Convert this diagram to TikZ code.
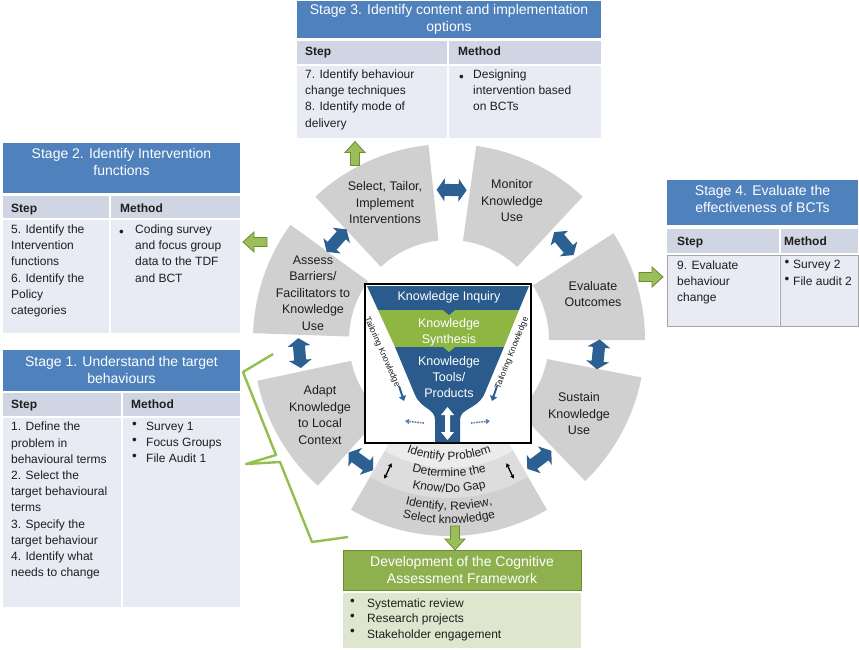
\documentclass[tikz,border=0pt]{standalone}
\usepackage{fontspec}
\setmainfont{Liberation Sans}
\usetikzlibrary{calc,decorations.text,arrows.meta}
\definecolor{kblue}{RGB}{45,96,146}
\definecolor{hblue}{RGB}{79,129,189}
\definecolor{colhead}{RGB}{207,213,227}
\definecolor{cellbg}{RGB}{232,235,244}
\definecolor{seggray}{RGB}{208,208,208}
\definecolor{bandone}{RGB}{236,236,236}
\definecolor{bandtwo}{RGB}{221,221,221}
\definecolor{fgreen}{RGB}{141,182,67}
\definecolor{ggreen}{RGB}{155,190,90}
\definecolor{ggreendk}{RGB}{108,140,48}
\definecolor{hgreen}{RGB}{142,176,78}
\definecolor{bgreen}{RGB}{222,231,205}
\definecolor{bracegreen}{RGB}{146,192,76}
\definecolor{funblue}{RGB}{42,91,140}
\definecolor{txt}{RGB}{30,30,30}
\newcommand{\kseg}[5]{\fill[#5] ($(C)+(#1:#4)$) arc[start angle=#1,end angle=#2,radius=#4] -- ($(C)+(#2:#3)$) arc[start angle=#2,end angle=#1,radius=#3] -- cycle;}
\newcommand{\kbandtext}[2]{\path[decorate,decoration={text along path,text align=center,text color=txt,text={|\fontsize{12}{14}\selectfont|#2}}] ($(C)+(236:#1)$) arc[start angle=236,end angle=304,radius=#1];}
\newcommand{\kbul}{{\fontsize{13.5}{13.5}\selectfont •}}
\begin{document}
\begin{tikzpicture}[x=1pt,y=1pt,
  segtext/.style={font=\fontsize{12.5}{16.5}\selectfont, text=txt, align=center, inner sep=0pt},
  funtext/.style={font=\fontsize{12.5}{16}\selectfont, text=white, align=center, inner sep=0pt},
  hdrtext/.style={font=\fontsize{14}{17}\selectfont, text=white, align=center, inner sep=0pt},
  btext/.style={anchor=north west, inner sep=0pt, yshift=11.34pt, align=left, font=\fontsize{12}{16.2}\selectfont, text=txt, execute at begin node=\strut},
  gtext/.style={anchor=north west, inner sep=0pt, yshift=10.71pt, align=left, font=\fontsize{12}{15.3}\selectfont, text=txt, execute at begin node=\strut},
  colhd/.style={anchor=base west, inner sep=0pt, font=\bfseries\fontsize{12}{14}\selectfont, text=txt},
  tailtext/.style={font=\fontsize{8.5}{10}\selectfont, text=txt, inner sep=0pt},
  dblarrow/.pic={\fill[kblue] (-15,0) -- (-7,11.5) -- (-7,6) -- (7,6) -- (7,11.5) -- (15,0) -- (7,-11.5) -- (7,-6) -- (-7,-6) -- (-7,-11.5) -- cycle;},
  greenarrow/.pic={\filldraw[fill=ggreen, draw=ggreendk, line width=0.8pt] (-12,-4.5) -- (1,-4.5) -- (1,-10) -- (12,0) -- (1,10) -- (1,4.5) -- (-12,4.5) -- cycle;},
  smallarr/.style={{Stealth[length=4pt,width=4.5pt]}-{Stealth[length=4pt,width=4.5pt]}, line width=1.3pt, black}
]
\useasboundingbox (0,0) rectangle (859,-650);
\fill[white] (0,0) rectangle (859,-650);
\coordinate (C) at (449,-340);

% ring segments
\kseg{0}{33}{100}{196}{seggray}
\kseg{47}{82}{100}{196}{seggray}
\kseg{96}{133}{100}{196}{seggray}
\kseg{144}{178}{100}{196}{seggray}
\kseg{192}{228}{100}{196}{seggray}
\kseg{314}{349}{100}{196}{seggray}
\kseg{240}{300}{93}{196}{seggray}
\kseg{240}{300}{93}{158}{bandtwo}
\kseg{240}{300}{93}{128}{bandone}

% segment labels
\node[segtext] (sel) at (385,-203) {Select, Tailor,\\Implement\\Interventions};
\node[segtext] (mon) at (512,-201) {Monitor\\Knowledge\\Use};
\node[segtext] (eva) at (593,-294) {Evaluate\\Outcomes};
\node[segtext] (sus) at (579,-414) {Sustain\\Knowledge\\Use};
\node[segtext] (ada) at (320,-415) {Adapt\\Knowledge\\to Local\\Context};
\node[segtext] (ass) at (313,-293) {Assess\\Barriers/\\Facilitators to\\Knowledge\\Use};

% bottom curved texts
\kbandtext{120}{Identify Problem}
\kbandtext{137}{Determine the}
\kbandtext{152.5}{Know/Do Gap}
\kbandtext{170}{Identify, Review,}
\kbandtext{183.5}{Select knowledge}
\draw[smallarr] ($(C)+(245:136)$) -- ($(C)+(245:153)$);
\draw[smallarr] ($(C)+(295:136)$) -- ($(C)+(295:153)$);

% blue double arrows between segments
\foreach \a in {89,40,-5.5,-53,234,185,138.5}
  \pic[rotate=\a+90] at ($(C)+(\a:150)$) {dblarrow};

% central funnel box
\draw[black, line width=1.3pt, fill=white] (365,-284) rectangle (531,-443);
\fill[funblue] (367,-286) -- (529,-286) -- (519,-310) -- (378,-310) -- cycle;
\fill[fgreen] (378,-310) -- (519,-310) -- (504,-347) -- (395,-347) -- cycle;
\fill[funblue] (395,-347) -- (504,-347) -- (484,-395) .. controls (476,-410) and (460,-408) .. (460,-420) -- (460,-442) -- (435,-442) -- (435,-420) .. controls (435,-408) and (422,-410) .. (415,-395) -- cycle;
\fill[funblue] (443,-310) -- (455,-310) -- (449,-315) -- cycle;
\fill[fgreen] (443,-347) -- (455,-347) -- (449,-352) -- cycle;
\fill[white] (447.5,-407) -- (454,-415) -- (450,-415) -- (450,-432) -- (454,-432) -- (447.5,-440) -- (441,-432) -- (445,-432) -- (445,-415) -- (441,-415) -- cycle;
\node[funtext] (inq) at (449,-297) {Knowledge Inquiry};
\node[funtext] (syn) at (449,-332.5) {Knowledge\\Synthesis};
\node[funtext] (tools) at (449,-377.5) {Knowledge\\Tools/\\Products};
\node[tailtext, rotate=-66] (tl) at (382,-352) {Tailoring Knowledge};
\node[tailtext, rotate=68] (tr) at (512,-353) {Tailoring Knowledge};
\draw[kblue, line width=2pt, -{Triangle[length=5pt,width=7pt]}] (399,-386) -- (404,-401);
\draw[kblue, line width=2pt, -{Triangle[length=5pt,width=7pt]}] (497,-386) -- (492,-401);
\draw[kblue!80, line width=1.6pt, densely dotted, -{Triangle[length=4pt,width=5pt]}] (424,-423) -- (405,-421);
\draw[kblue!80, line width=1.6pt, densely dotted, -{Triangle[length=4pt,width=5pt]}] (471,-423) -- (490,-421);

% green brace
\draw[bracegreen, line width=2.4pt, line join=round] (273,-354) -- (243,-372) -- (276,-455) -- (246,-464) -- (280,-462) -- (312,-542) -- (348,-537);

% green arrows
\pic[rotate=90] at (355,-153.5) {greenarrow};
\pic[rotate=180] at (255,-242) {greenarrow};
\pic at (651,-277) {greenarrow};
\pic[rotate=-90] at (455,-538) {greenarrow};

% Stage 3 table
\fill[hblue] (297,-1) rectangle (601,-38);
\fill[colhead] (297,-41) rectangle (447,-64);
\fill[colhead] (449,-41) rectangle (601,-64);
\fill[cellbg] (297,-66) rectangle (447,-138);
\fill[cellbg] (449,-66) rectangle (601,-138);
\node[hdrtext] (s3h) at (449,-19.5) {Stage 3. Identify content and implementation\\options};
\node[colhd] (s3a) at (305,-56) {Step};
\node[colhd] (s3b) at (458,-56) {Method};
\node[btext] (s3c) at (305,-81) {7. Identify behaviour\\change techniques\\8. Identify mode of\\delivery};
\node[btext] (s3d) at (459,-81) {\kbul};
\node[btext] (s3e) at (473,-81) {Designing\\intervention based\\on BCTs};

% Stage 2 table
\fill[hblue] (3,-143) rectangle (240,-193);
\fill[colhead] (3,-196) rectangle (109,-218);
\fill[colhead] (111,-196) rectangle (240,-218);
\fill[cellbg] (3,-220) rectangle (109,-333);
\fill[cellbg] (111,-220) rectangle (240,-333);
\node[hdrtext] (s2h) at (121.5,-162) {Stage 2. Identify Intervention\\functions};
\node[colhd] (s2a) at (11,-212) {Step};
\node[colhd] (s2b) at (120,-212) {Method};
\node[btext] (s2c) at (11,-236) {5. Identify the\\Intervention\\functions\\6. Identify the\\Policy\\categories};
\node[btext] (s2d) at (119,-236) {\kbul};
\node[btext] (s2e) at (135,-236) {Coding survey\\and focus group\\data to the TDF\\and BCT};

% Stage 1 table
\fill[hblue] (3,-350) rectangle (240,-391);
\fill[colhead] (3,-393) rectangle (121,-416);
\fill[colhead] (123,-393) rectangle (240,-416);
\fill[cellbg] (3,-418) rectangle (121,-607);
\fill[cellbg] (123,-418) rectangle (240,-607);
\node[hdrtext] (s1h) at (121.5,-369.5) {Stage 1. Understand the target\\behaviours};
\node[colhd] (s1a) at (11,-408) {Step};
\node[colhd] (s1b) at (131,-408) {Method};
\node[btext] (s1c) at (11,-433.3) {1. Define the\\problem in\\behavioural terms\\2. Select the\\target behavioural\\terms\\3. Specify the\\target behaviour\\4. Identify what\\needs to change};
\node[btext] (s1d) at (132,-433.3) {\kbul\\\kbul\\\kbul};
\node[btext] (s1e) at (146,-433.3) {Survey 1\\Focus Groups\\File Audit 1};

% Stage 4 table
\fill[hblue] (667,-180) rectangle (858,-225);
\fill[colhead] (667,-229) rectangle (779,-253);
\fill[colhead] (781,-229) rectangle (858,-253);
\fill[cellbg] (667,-256) rectangle (779,-326);
\fill[cellbg] (781,-256) rectangle (858,-326);
\draw[gray!70, line width=0.7pt] (667,-255.5) rectangle (858,-326.5);
\draw[gray!70, line width=0.7pt] (780,-255.5) -- (780,-326.5);
\node[hdrtext] (s4h) at (762.5,-198.5) {Stage 4. Evaluate the\\effectiveness of BCTs};
\node[colhd] (s4a) at (677,-245) {Step};
\node[colhd] (s4b) at (784,-245) {Method};
\node[btext] (s4c) at (677,-271.7) {9. Evaluate\\behaviour\\change};
\node[btext] (s4d) at (784.5,-271.7) {\kbul\\\kbul};
\node[btext] (s4e) at (793,-271.7) {Survey 2\\File audit 2};

% Development box
\filldraw[fill=hgreen, draw=ggreendk, line width=0.6pt] (343,-550) rectangle (581,-590);
\fill[bgreen] (343,-593) rectangle (581,-648);
\node[hdrtext] (dh) at (462,-569.5) {Development of the Cognitive\\Assessment Framework};
\node[gtext] (dd) at (350,-609.3) {\kbul\\\kbul\\\kbul};
\node[gtext] (de) at (367,-609.3) {Systematic review\\Research projects\\Stakeholder engagement};
\end{tikzpicture}
\end{document}
